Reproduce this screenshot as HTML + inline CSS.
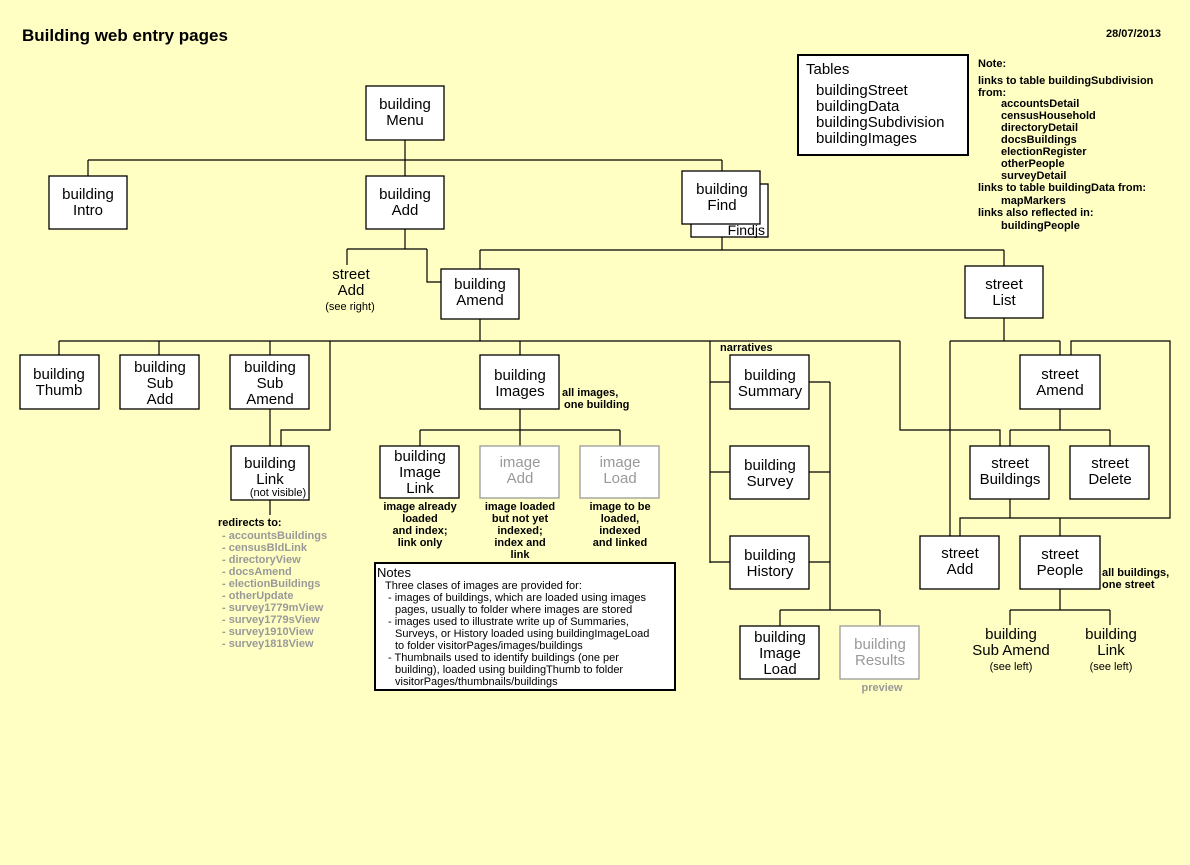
<!DOCTYPE html>
<html><head><meta charset="utf-8"><style>
html,body{margin:0;padding:0;background:#ffffc4;}
svg{display:block;font-family:"Liberation Sans",Arial,sans-serif;}
.b{fill:#fff;stroke:#000;stroke-width:1.3}
.g{fill:#fff;stroke:#999;stroke-width:1.3}
.t{font-size:15px;text-anchor:middle;fill:#000}
.tg{font-size:15px;text-anchor:middle;fill:#999}
.s{font-size:11px;font-weight:bold;fill:#000}
.sc{font-size:11px;font-weight:bold;fill:#000;text-anchor:middle}
.gr{font-size:11px;font-weight:bold;fill:#999}
.n{font-size:11px;fill:#000}
line,polyline{stroke:#000;stroke-width:1.2;fill:none}
</style></head><body>
<svg width="1190" height="865" viewBox="0 0 1190 865">
<rect width="1190" height="865" fill="#ffffc4"/>
<text x="22" y="41" font-size="17" font-weight="bold">Building web entry pages</text>
<text x="1106" y="37" class="s">28/07/2013</text>

<polyline points="405,140 405,160"/>
<line x1="88" y1="160" x2="722" y2="160"/>
<line x1="88" y1="160" x2="88" y2="176"/>
<line x1="405" y1="160" x2="405" y2="176"/>
<line x1="722" y1="160" x2="722" y2="171"/>
<polyline points="405,229 405,249"/>
<line x1="347" y1="249" x2="427" y2="249"/>
<line x1="347" y1="249" x2="347" y2="265"/>
<polyline points="427,249 427,282 441,282"/>
<polyline points="722,237 722,250"/>
<line x1="480" y1="250" x2="1004" y2="250"/>
<line x1="480" y1="250" x2="480" y2="269"/>
<line x1="1004" y1="250" x2="1004" y2="266"/>
<polyline points="480,319 480,341"/>
<line x1="59" y1="341" x2="900" y2="341"/>
<line x1="59" y1="341" x2="59" y2="355"/>
<line x1="159" y1="341" x2="159" y2="355"/>
<line x1="270" y1="341" x2="270" y2="355"/>
<polyline points="330,341 330,430 281,430 281,446"/>
<line x1="520" y1="341" x2="520" y2="355"/>
<line x1="270" y1="409" x2="270" y2="446"/>
<line x1="270" y1="500" x2="270" y2="515"/>
<line x1="520" y1="409" x2="520" y2="430"/>
<line x1="420" y1="430" x2="620" y2="430"/>
<line x1="420" y1="430" x2="420" y2="446"/>
<line x1="520" y1="430" x2="520" y2="446"/>
<line x1="620" y1="430" x2="620" y2="446"/>
<line x1="710" y1="341" x2="710" y2="563"/>
<line x1="710" y1="382" x2="730" y2="382"/>
<line x1="710" y1="472" x2="730" y2="472"/>
<line x1="710" y1="562" x2="730" y2="562"/>
<polyline points="900,341 900,430 1000,430 1000,446"/>
<line x1="809" y1="382" x2="830" y2="382"/>
<line x1="809" y1="472" x2="830" y2="472"/>
<line x1="809" y1="562" x2="830" y2="562"/>
<line x1="830" y1="382" x2="830" y2="610"/>
<line x1="780" y1="610" x2="880" y2="610"/>
<line x1="780" y1="610" x2="780" y2="626"/>
<line x1="880" y1="610" x2="880" y2="626"/>
<polyline points="1004,318 1004,341"/>
<line x1="950" y1="341" x2="1060" y2="341"/>
<line x1="950" y1="341" x2="950" y2="536"/>
<line x1="1060" y1="341" x2="1060" y2="355"/>
<polyline points="1071,355 1071,341 1170,341 1170,518 960,518 960,536"/>
<line x1="1010" y1="499" x2="1010" y2="518"/>
<line x1="1060" y1="518" x2="1060" y2="536"/>
<line x1="1060" y1="409" x2="1060" y2="430"/>
<line x1="1010" y1="430" x2="1110" y2="430"/>
<line x1="1010" y1="430" x2="1010" y2="446"/>
<line x1="1110" y1="430" x2="1110" y2="446"/>
<line x1="1060" y1="589" x2="1060" y2="610"/>
<line x1="1010" y1="610" x2="1110" y2="610"/>
<line x1="1010" y1="610" x2="1010" y2="625"/>
<line x1="1110" y1="610" x2="1110" y2="625"/>

<rect class="b" x="366" y="86" width="78" height="54"/>
<text class="t" x="405" y="109">building</text><text class="t" x="405" y="125">Menu</text>
<rect class="b" x="49" y="176" width="78" height="53"/>
<text class="t" x="88" y="199">building</text><text class="t" x="88" y="215">Intro</text>
<rect class="b" x="366" y="176" width="78" height="53"/>
<text class="t" x="405" y="199">building</text><text class="t" x="405" y="215">Add</text>
<rect class="b" x="691" y="184" width="77" height="53"/>
<text x="765" y="235" font-size="14" text-anchor="end">Findjs</text>
<rect class="b" x="682" y="171" width="78" height="53"/>
<text class="t" x="722" y="194">building</text><text class="t" x="722" y="210">Find</text>
<text class="t" x="351" y="279">street</text><text class="t" x="351" y="295">Add</text>
<text x="350" y="310" font-size="11" text-anchor="middle">(see right)</text>
<rect class="b" x="441" y="269" width="78" height="50"/>
<text class="t" x="480" y="289">building</text><text class="t" x="480" y="305">Amend</text>
<rect class="b" x="965" y="266" width="78" height="52"/>
<text class="t" x="1004" y="289">street</text><text class="t" x="1004" y="305">List</text>

<rect class="b" x="20" y="355" width="79" height="54"/>
<text class="t" x="59" y="379">building</text><text class="t" x="59" y="395">Thumb</text>
<rect class="b" x="120" y="355" width="79" height="54"/>
<text class="t" x="160" y="372">building</text><text class="t" x="160" y="388">Sub</text><text class="t" x="160" y="404">Add</text>
<rect class="b" x="230" y="355" width="79" height="54"/>
<text class="t" x="270" y="372">building</text><text class="t" x="270" y="388">Sub</text><text class="t" x="270" y="404">Amend</text>
<rect class="b" x="231" y="446" width="78" height="54"/>
<text class="t" x="270" y="468">building</text><text class="t" x="270" y="484">Link</text>
<text x="278" y="496" font-size="11" text-anchor="middle">(not visible)</text>
<text x="218" y="526" class="s">redirects to:</text>
<g class="gr">
<text x="222" y="539">- accountsBuildings</text>
<text x="222" y="551">- censusBldLink</text>
<text x="222" y="563">- directoryView</text>
<text x="222" y="575">- docsAmend</text>
<text x="222" y="587">- electionBuildings</text>
<text x="222" y="599">- otherUpdate</text>
<text x="222" y="611">- survey1779mView</text>
<text x="222" y="623">- survey1779sView</text>
<text x="222" y="635">- survey1910View</text>
<text x="222" y="647">- survey1818View</text>
</g>

<rect class="b" x="480" y="355" width="79" height="54"/>
<text class="t" x="520" y="380">building</text><text class="t" x="520" y="396">Images</text>
<text x="562" y="396" class="s">all images,</text><text x="564" y="408" class="s">one building</text>
<rect class="b" x="380" y="446" width="79" height="52"/>
<text class="t" x="420" y="461">building</text><text class="t" x="420" y="477">Image</text><text class="t" x="420" y="493">Link</text>
<rect class="g" x="480" y="446" width="79" height="52"/>
<text class="tg" x="520" y="467">image</text><text class="tg" x="520" y="483">Add</text>
<rect class="g" x="580" y="446" width="79" height="52"/>
<text class="tg" x="620" y="467">image</text><text class="tg" x="620" y="483">Load</text>
<g class="sc">
<text x="420" y="510">image already</text><text x="420" y="522">loaded</text><text x="420" y="534">and index;</text><text x="420" y="546">link only</text>
<text x="520" y="510">image loaded</text><text x="520" y="522">but not yet</text><text x="520" y="534">indexed;</text><text x="520" y="546">index and</text><text x="520" y="558">link</text>
<text x="620" y="510">image to be</text><text x="620" y="522">loaded,</text><text x="620" y="534">indexed</text><text x="620" y="546">and linked</text>
</g>
<rect x="375" y="563" width="300" height="127" fill="#fff" stroke="#000" stroke-width="2"/>
<text x="377" y="577" font-size="13">Notes</text>
<g class="n">
<text x="385" y="589">Three clases of images are provided for:</text>
<text x="388" y="601">- images of buildings, which are loaded using images</text>
<text x="395" y="613">pages, usually to folder where images are stored</text>
<text x="388" y="625">- images used to illustrate write up of Summaries,</text>
<text x="395" y="637">Surveys, or History loaded using buildingImageLoad</text>
<text x="395" y="649">to folder  visitorPages/images/buildings</text>
<text x="388" y="661">- Thumbnails used to identify buildings (one per</text>
<text x="395" y="673">building), loaded using  buildingThumb to folder</text>
<text x="395" y="685">visitorPages/thumbnails/buildings</text>
</g>

<text x="720" y="351" class="s">narratives</text>
<rect class="b" x="730" y="355" width="79" height="54"/>
<text class="t" x="770" y="380">building</text><text class="t" x="770" y="396">Summary</text>
<rect class="b" x="730" y="446" width="79" height="53"/>
<text class="t" x="770" y="470">building</text><text class="t" x="770" y="486">Survey</text>
<rect class="b" x="730" y="536" width="79" height="53"/>
<text class="t" x="770" y="560">building</text><text class="t" x="770" y="576">History</text>
<rect class="b" x="740" y="626" width="79" height="53"/>
<text class="t" x="780" y="642">building</text><text class="t" x="780" y="658">Image</text><text class="t" x="780" y="674">Load</text>
<rect class="g" x="840" y="626" width="79" height="53"/>
<text class="tg" x="880" y="649">building</text><text class="tg" x="880" y="665">Results</text>
<text x="882" y="691" font-size="11" font-weight="bold" fill="#999" text-anchor="middle">preview</text>

<rect class="b" x="1020" y="355" width="80" height="54"/>
<text class="t" x="1060" y="379">street</text><text class="t" x="1060" y="395">Amend</text>
<rect class="b" x="970" y="446" width="79" height="53"/>
<text class="t" x="1010" y="468">street</text><text class="t" x="1010" y="484">Buildings</text>
<rect class="b" x="1070" y="446" width="79" height="53"/>
<text class="t" x="1110" y="468">street</text><text class="t" x="1110" y="484">Delete</text>
<rect class="b" x="920" y="536" width="79" height="53"/>
<text class="t" x="960" y="558">street</text><text class="t" x="960" y="574">Add</text>
<rect class="b" x="1020" y="536" width="80" height="53"/>
<text class="t" x="1060" y="559">street</text><text class="t" x="1060" y="575">People</text>
<text x="1102" y="576" class="s">all buildings,</text><text x="1102" y="588" class="s">one street</text>
<text class="t" x="1011" y="639">building</text><text class="t" x="1011" y="655">Sub Amend</text>
<text x="1011" y="670" font-size="11" text-anchor="middle">(see left)</text>
<text class="t" x="1111" y="639">building</text><text class="t" x="1111" y="655">Link</text>
<text x="1111" y="670" font-size="11" text-anchor="middle">(see left)</text>

<rect x="798" y="55" width="170" height="100" fill="#fff" stroke="#000" stroke-width="2"/>
<text x="806" y="74" font-size="15">Tables</text>
<g font-size="15"><text x="816" y="95">buildingStreet</text><text x="816" y="111">buildingData</text><text x="816" y="127">buildingSubdivision</text><text x="816" y="143">buildingImages</text></g>
<g class="s">
<text x="978" y="67">Note:</text>
<text x="978" y="84">links to table buildingSubdivision</text>
<text x="978" y="96">from:</text>
<text x="1001" y="107">accountsDetail</text>
<text x="1001" y="119">censusHousehold</text>
<text x="1001" y="131">directoryDetail</text>
<text x="1001" y="143">docsBuildings</text>
<text x="1001" y="155">electionRegister</text>
<text x="1001" y="167">otherPeople</text>
<text x="1001" y="179">surveyDetail</text>
<text x="978" y="191">links to table buildingData from:</text>
<text x="1001" y="204">mapMarkers</text>
<text x="978" y="216">links also reflected in:</text>
<text x="1001" y="229">buildingPeople</text>
</g>
</svg>
</body></html>
